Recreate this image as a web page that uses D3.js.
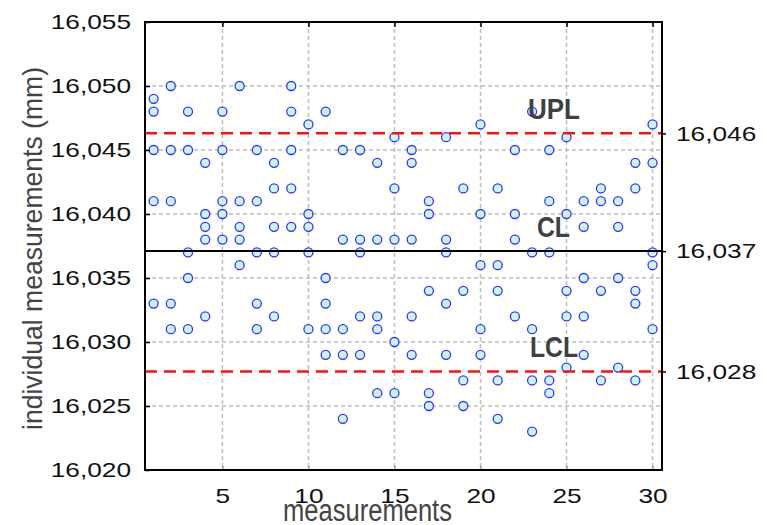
<!DOCTYPE html>
<html>
<head>
<meta charset="utf-8">
<script src="https://cdn.jsdelivr.net/npm/d3@7"></script>
<style>
	html, body { margin: 0; padding: 0; background: #fff; }
	svg { display: block; font-family: "Liberation Sans", Arial, sans-serif; }
</style>
</head>
<body>
<div id="chart"></div>
<script>
// measurement number on the x axis
var measurementNo = [1, 2, 3, 4, 5, 6, 7, 8, 9, 10, 11, 12, 13, 14, 15,
	16, 17, 18, 19, 20, 21, 22, 23, 24, 25, 26, 27, 28, 29, 30];

// individual readings (mm) for each measurement, same order as measurementNo
var readings = [
	[16.049, 16.048, 16.045, 16.041, 16.033],
	[16.050, 16.045, 16.041, 16.033, 16.031],
	[16.048, 16.045, 16.037, 16.035, 16.031],
	[16.044, 16.040, 16.039, 16.038, 16.032],
	[16.048, 16.045, 16.041, 16.040, 16.038],
	[16.050, 16.041, 16.039, 16.038, 16.036],
	[16.045, 16.041, 16.037, 16.033, 16.031],
	[16.044, 16.042, 16.039, 16.037, 16.032],
	[16.050, 16.048, 16.045, 16.042, 16.039],
	[16.047, 16.040, 16.039, 16.037, 16.031],
	[16.048, 16.035, 16.033, 16.031, 16.029],
	[16.045, 16.038, 16.031, 16.029, 16.024],
	[16.045, 16.038, 16.037, 16.032, 16.029],
	[16.044, 16.038, 16.032, 16.031, 16.026],
	[16.046, 16.042, 16.038, 16.030, 16.026],
	[16.045, 16.044, 16.038, 16.032, 16.029],
	[16.041, 16.040, 16.034, 16.026, 16.025],
	[16.046, 16.038, 16.037, 16.033, 16.029],
	[16.042, 16.034, 16.027, 16.025],
	[16.047, 16.040, 16.036, 16.031, 16.029],
	[16.042, 16.036, 16.034, 16.027, 16.024],
	[16.045, 16.040, 16.038, 16.032],
	[16.048, 16.037, 16.031, 16.027, 16.023],
	[16.045, 16.041, 16.037, 16.027, 16.026],
	[16.046, 16.040, 16.034, 16.032, 16.028],
	[16.041, 16.039, 16.035, 16.032, 16.029],
	[16.042, 16.041, 16.034, 16.027],
	[16.041, 16.039, 16.035, 16.028],
	[16.044, 16.042, 16.034, 16.033, 16.027],
	[16.047, 16.044, 16.037, 16.036, 16.031]
];

// control limits
var limitNames = ['UPL', 'CL', 'LCL'];
var limitValues = [16.0463, 16.0371, 16.0277];

var xTicks = [5, 10, 15, 20, 25, 30];
var yTicks = [16.020, 16.025, 16.030, 16.035, 16.040, 16.045, 16.050, 16.055];
var yGrid = [16.025, 16.030, 16.035, 16.040, 16.045, 16.050];

var width = 767,
	height = 525,
	plotLeft = 145,
	plotRight = 662,
	plotTop = 22,
	plotBottom = 470,
	stretch = 1.25;

var fmt = d3.formatLocale({ decimal: ',', thousands: '.', grouping: [3], currency: ['', ''] }).format('.3f');

var x = d3.scaleLinear().domain([0.5, 30.55]).range([plotLeft, plotRight]);
var y = d3.scaleLinear().domain([16.020, 16.055]).range([plotBottom, plotTop]);

var svg = d3.select('#chart').append('svg')
		.attr('width', width)
		.attr('height', height);

// grid
svg.append('g')
		.selectAll('line')
		.data(xTicks)
	.enter().append('line')
		.attr('x1', function(d) { return x(d); })
		.attr('x2', function(d) { return x(d); })
		.attr('y1', plotTop)
		.attr('y2', plotBottom)
		.attr('stroke', '#bdbdbd')
		.attr('stroke-width', 1.5)
		.attr('stroke-dasharray', '4,3');

svg.append('g')
		.selectAll('line')
		.data(yGrid)
	.enter().append('line')
		.attr('x1', plotLeft)
		.attr('x2', plotRight)
		.attr('y1', function(d) { return y(d); })
		.attr('y2', function(d) { return y(d); })
		.attr('stroke', '#bdbdbd')
		.attr('stroke-width', 1.5)
		.attr('stroke-dasharray', '4,3');

// points
var points = [];
readings.forEach(function(vals, i) {
	vals.forEach(function(v) {
		points.push({ n: measurementNo[i], v: v });
	});
});

svg.append('g')
		.selectAll('circle')
		.data(points)
	.enter().append('circle')
		.attr('cx', function(d) { return x(d.n); })
		.attr('cy', function(d) { return y(d.v); })
		.attr('r', 4.5)
		.attr('fill', '#ccf6ff')
		.attr('stroke', '#3333ff')
		.attr('stroke-width', 1.3);

// limit lines
svg.append('g')
		.selectAll('line')
		.data(limitValues)
	.enter().append('line')
		.attr('x1', plotLeft)
		.attr('x2', plotRight)
		.attr('y1', function(d) { return y(d); })
		.attr('y2', function(d) { return y(d); })
		.attr('stroke', function(d, i) { return i === 1 ? '#000' : '#ff1010'; })
		.attr('stroke-width', function(d, i) { return i === 1 ? 2 : 2.5; })
		.attr('stroke-dasharray', function(d, i) { return i === 1 ? null : '12,7'; });

// axes
var leftAxis = svg.append('g')
		.attr('transform', 'translate(' + plotLeft + ',0)')
		.call(d3.axisLeft(y).tickValues(yTicks).tickSize(-5).tickPadding(14).tickFormat(fmt));

var bottomAxis = svg.append('g')
		.attr('transform', 'translate(0,' + plotBottom + ')')
		.call(d3.axisBottom(x).tickValues(xTicks).tickSize(-4).tickPadding(18).tickFormat(d3.format('d')));

svg.append('g')
		.attr('transform', 'translate(0,' + plotTop + ')')
		.call(d3.axisTop(x).tickValues(xTicks).tickSize(-5).tickFormat(''));

var rightAxis = svg.append('g')
		.attr('transform', 'translate(' + plotRight + ',0)')
		.call(d3.axisRight(y).tickValues(limitValues).tickSize(4).tickPadding(10).tickFormat(fmt));

svg.selectAll('.domain').remove();
svg.selectAll('.tick line').attr('stroke', '#000').attr('stroke-width', 1.5);
bottomAxis.selectAll('.tick line').attr('stroke', '#999');

[leftAxis, bottomAxis, rightAxis].forEach(function(g) {
	g.selectAll('text')
		.attr('fill', '#111')
		.style('font-size', '21px')
		.style('font-family', '"Liberation Sans", Arial, sans-serif')
		.attr('x', function() { return +d3.select(this).attr('x') / stretch; })
		.attr('transform', 'scale(' + stretch + ',1)');
});

// frame
svg.append('rect')
		.attr('x', plotLeft)
		.attr('y', plotTop)
		.attr('width', plotRight - plotLeft)
		.attr('height', plotBottom - plotTop)
		.attr('fill', 'none')
		.attr('stroke', '#000')
		.attr('stroke-width', 2);

// limit names
var nameX = [528, 537, 530],
	nameLen = [52, 33, 48];
svg.append('g')
		.selectAll('text')
		.data(limitNames)
	.enter().append('text')
		.attr('x', function(d, i) { return nameX[i]; })
		.attr('y', function(d, i) { return y(limitValues[i]) - 14; })
		.attr('textLength', function(d, i) { return nameLen[i]; })
		.attr('lengthAdjust', 'spacingAndGlyphs')
		.style('font-size', '30px')
		.style('font-weight', 'bold')
		.attr('fill', '#404040')
		.text(function(d) { return d; });

// axis titles
svg.append('text')
		.attr('x', 283)
		.attr('y', 521)
		.attr('textLength', 169)
		.attr('lengthAdjust', 'spacingAndGlyphs')
		.style('font-size', '31px')
		.attr('fill', '#444')
		.text('measurements');

svg.append('text')
		.attr('transform', 'translate(42,430) rotate(-90)')
		.attr('textLength', 363)
		.attr('lengthAdjust', 'spacingAndGlyphs')
		.style('font-size', '28px')
		.attr('fill', '#444')
		.text('individual measurements (mm)');
</script>
</body>
</html>
